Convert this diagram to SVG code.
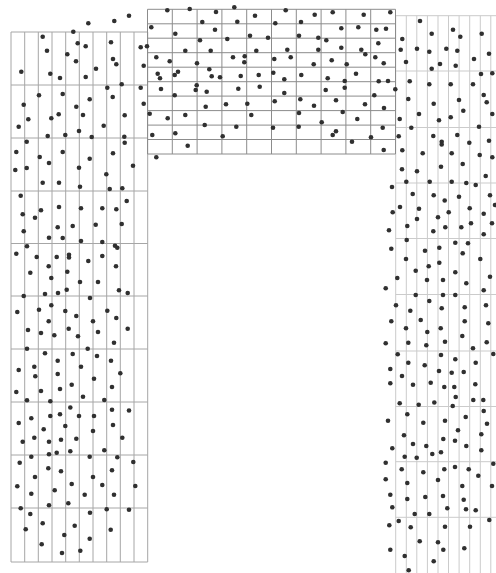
<svg xmlns="http://www.w3.org/2000/svg" width="496" height="573" viewBox="0 0 496 573">
<style>
.grid{fill:none;stroke-width:1}
#left-block .grid{stroke:#a6a6a6}
#top-block .grid{stroke:#8c8c8c}
#right-block .grid{stroke:#cbcbcb}
.dots circle{fill:#303030}
</style>
<defs><circle id="d" r="2.3"/></defs>
<rect width="496" height="573" fill="#fff"/>
<g id="left-block">
<path class="grid" d="M11,32V562M24.7,32V562M38.3,32V562M52,32V562M65.7,32V562M79.3,32V562M93,32V562M106.7,32V562M120.3,32V562M134,32V562M147.7,32V562M11,32H147.7M11,85H147.7M11,138H147.7M11,191H147.7M11,243.5H147.7M11,296H147.7M11,349H147.7M11,402H147.7M11,455H147.7M11,508H147.7M11,562H147.7"/>
</g>
<g id="right-block">
<path class="grid" d="M395.7,15.7V573M406.3,15.7V573M416.8,15.7V573M427.4,15.7V573M438,15.7V573M448.5,15.7V573M459.1,15.7V573M469.7,15.7V573M480.3,15.7V573M490.8,15.7V573M395.7,15.7H496M395.7,71H496M395.7,127.5H496M395.7,183H496M395.7,238.5H496M395.7,294.5H496M395.7,351H496M395.7,406.5H496M395.7,461.7H496M395.7,517.3H496"/>
</g>
<g id="top-block">
<path class="grid" d="M147.5,9.3V154M172.3,9.3V154M197.1,9.3V154M221.9,9.3V154M246.7,9.3V154M271.5,9.3V154M296.3,9.3V154M321.1,9.3V154M345.9,9.3V154M370.7,9.3V154M395.5,9.3V154M147.5,9.3H395.5M147.5,23.8H395.5M147.5,38.2H395.5M147.5,52.7H395.5M147.5,67.2H395.5M147.5,81.7H395.5M147.5,96.1H395.5M147.5,110.6H395.5M147.5,125.1H395.5M147.5,139.5H395.5M147.5,154H395.5"/>
</g>
<g class="dots" id="dots">
<circle r="2.3" cx="88.3" cy="23.3"/><circle r="2.3" cx="114.3" cy="21"/><circle r="2.3" cx="129" cy="15.7"/><circle r="2.3" cx="73.3" cy="31.7"/><circle r="2.3" cx="42.7" cy="36.7"/><circle r="2.3" cx="47" cy="50.7"/><circle r="2.3" cx="77.7" cy="43.3"/><circle r="2.3" cx="85.7" cy="46.3"/><circle r="2.3" cx="111" cy="42.3"/><circle r="2.3" cx="140.7" cy="47.3"/><circle r="2.3" cx="147" cy="46.3"/><circle r="2.3" cx="67.3" cy="54.3"/><circle r="2.3" cx="76" cy="61.3"/><circle r="2.3" cx="113" cy="59"/><circle r="2.3" cx="116.3" cy="64.3"/><circle r="2.3" cx="96" cy="68.7"/><circle r="2.3" cx="143.7" cy="65.7"/><circle r="2.3" cx="21.3" cy="71.7"/><circle r="2.3" cx="50.3" cy="73.7"/><circle r="2.3" cx="60" cy="78"/><circle r="2.3" cx="85.7" cy="77"/><circle r="2.3" cx="107.3" cy="87.7"/><circle r="2.3" cx="121.7" cy="84.3"/><circle r="2.3" cx="140.7" cy="87.7"/><circle r="2.3" cx="39" cy="95.3"/><circle r="2.3" cx="62.7" cy="94"/><circle r="2.3" cx="89.7" cy="99.3"/><circle r="2.3" cx="112.7" cy="97"/><circle r="2.3" cx="23.7" cy="104.7"/><circle r="2.3" cx="76.3" cy="106.7"/><circle r="2.3" cx="143.7" cy="103.7"/><circle r="2.3" cx="58.7" cy="114.3"/><circle r="2.3" cx="83" cy="115"/><circle r="2.3" cx="124.7" cy="115.3"/><circle r="2.3" cx="149.7" cy="113.7"/><circle r="2.3" cx="28.3" cy="119.3"/><circle r="2.3" cx="51.3" cy="118.3"/><circle r="2.3" cx="18.7" cy="126.7"/><circle r="2.3" cx="103.7" cy="125.7"/><circle r="2.3" cx="79" cy="131"/><circle r="2.3" cx="47.7" cy="136"/><circle r="2.3" cx="65.3" cy="135"/><circle r="2.3" cx="91.7" cy="137"/><circle r="2.3" cx="124.3" cy="136.7"/><circle r="2.3" cx="152.3" cy="135"/><circle r="2.3" cx="26.7" cy="141.7"/><circle r="2.3" cx="124.7" cy="142.7"/><circle r="2.3" cx="16.3" cy="152"/><circle r="2.3" cx="62.7" cy="152"/><circle r="2.3" cx="113" cy="153.3"/><circle r="2.3" cx="39.7" cy="157"/><circle r="2.3" cx="89.7" cy="158.7"/><circle r="2.3" cx="156.3" cy="157.3"/><circle r="2.3" cx="49" cy="163"/><circle r="2.3" cx="133" cy="165.7"/><circle r="2.3" cx="15.3" cy="170"/><circle r="2.3" cx="26.7" cy="168"/><circle r="2.3" cx="79" cy="167.7"/><circle r="2.3" cx="106.3" cy="174.3"/><circle r="2.3" cx="42.7" cy="182.7"/><circle r="2.3" cx="59" cy="182.7"/><circle r="2.3" cx="80" cy="186.7"/><circle r="2.3" cx="109.7" cy="189"/><circle r="2.3" cx="122.3" cy="188.3"/><circle r="2.3" cx="20.7" cy="195.7"/><circle r="2.3" cx="126.7" cy="201"/>
<circle r="2.3" cx="41" cy="210.3"/><circle r="2.3" cx="59" cy="207"/><circle r="2.3" cx="81" cy="208.3"/><circle r="2.3" cx="102.3" cy="208.3"/><circle r="2.3" cx="116.3" cy="209.3"/><circle r="2.3" cx="22.7" cy="214.3"/><circle r="2.3" cx="35" cy="217.7"/><circle r="2.3" cx="121.7" cy="224"/><circle r="2.3" cx="95.7" cy="224.7"/><circle r="2.3" cx="72.7" cy="226"/><circle r="2.3" cx="57.7" cy="227.3"/><circle r="2.3" cx="23.7" cy="231.3"/><circle r="2.3" cx="49" cy="237.7"/><circle r="2.3" cx="62.7" cy="238"/><circle r="2.3" cx="81" cy="241"/><circle r="2.3" cx="102.3" cy="242"/><circle r="2.3" cx="27" cy="246.3"/><circle r="2.3" cx="115" cy="245.7"/><circle r="2.3" cx="117.3" cy="247.7"/><circle r="2.3" cx="16.3" cy="253.7"/><circle r="2.3" cx="36.7" cy="257"/><circle r="2.3" cx="56.7" cy="257"/><circle r="2.3" cx="69" cy="254.7"/><circle r="2.3" cx="69" cy="257.5"/><circle r="2.3" cx="102.3" cy="256"/><circle r="2.3" cx="88.3" cy="261"/><circle r="2.3" cx="48.7" cy="266.3"/><circle r="2.3" cx="116" cy="266.3"/><circle r="2.3" cx="67.3" cy="271.7"/><circle r="2.3" cx="30.3" cy="272.7"/><circle r="2.3" cx="51.3" cy="278"/><circle r="2.3" cx="80" cy="282"/><circle r="2.3" cx="98" cy="282"/><circle r="2.3" cx="66.7" cy="289.7"/><circle r="2.3" cx="58" cy="293"/><circle r="2.3" cx="45" cy="294"/><circle r="2.3" cx="119" cy="290.3"/><circle r="2.3" cx="127.7" cy="293"/><circle r="2.3" cx="23.7" cy="296"/><circle r="2.3" cx="90" cy="298"/><circle r="2.3" cx="51.3" cy="305.3"/><circle r="2.3" cx="39" cy="309.7"/><circle r="2.3" cx="65.3" cy="311"/><circle r="2.3" cx="107.3" cy="310.7"/><circle r="2.3" cx="17.3" cy="312"/><circle r="2.3" cx="76.3" cy="316"/><circle r="2.3" cx="116.3" cy="318"/><circle r="2.3" cx="48.7" cy="321.3"/><circle r="2.3" cx="93" cy="321.3"/><circle r="2.3" cx="127.7" cy="328.7"/><circle r="2.3" cx="28" cy="330"/><circle r="2.3" cx="68.7" cy="328.7"/><circle r="2.3" cx="41" cy="333"/><circle r="2.3" cx="98" cy="332"/><circle r="2.3" cx="54.3" cy="335.3"/><circle r="2.3" cx="78" cy="336.3"/><circle r="2.3" cx="114" cy="342.7"/><circle r="2.3" cx="27" cy="348.7"/><circle r="2.3" cx="87.7" cy="348.7"/><circle r="2.3" cx="45" cy="353.3"/><circle r="2.3" cx="72.7" cy="354"/><circle r="2.3" cx="97" cy="356"/><circle r="2.3" cx="111" cy="360.7"/><circle r="2.3" cx="57.7" cy="360.7"/><circle r="2.3" cx="34.3" cy="366.7"/><circle r="2.3" cx="81" cy="366.7"/><circle r="2.3" cx="18.7" cy="370"/><circle r="2.3" cx="120.3" cy="373.3"/><circle r="2.3" cx="57.7" cy="374"/><circle r="2.3" cx="35.3" cy="376.3"/><circle r="2.3" cx="94" cy="378.7"/><circle r="2.3" cx="71.7" cy="384.7"/><circle r="2.3" cx="112" cy="387"/><circle r="2.3" cx="60" cy="389"/><circle r="2.3" cx="16.3" cy="392"/><circle r="2.3" cx="41" cy="391"/><circle r="2.3" cx="83" cy="396.7"/><circle r="2.3" cx="104.3" cy="400"/><circle r="2.3" cx="27" cy="400.3"/><circle r="2.3" cx="50.3" cy="401.3"/><circle r="2.3" cx="70.3" cy="407.5"/><circle r="2.3" cx="112" cy="409.8"/><circle r="2.3" cx="129" cy="410.5"/>
<circle r="2.3" cx="31.3" cy="418.3"/><circle r="2.3" cx="50.3" cy="416"/><circle r="2.3" cx="60" cy="414.3"/><circle r="2.3" cx="79" cy="416"/><circle r="2.3" cx="94" cy="416"/><circle r="2.3" cx="113" cy="425"/><circle r="2.3" cx="18.7" cy="423"/><circle r="2.3" cx="43.7" cy="429.3"/><circle r="2.3" cx="65.3" cy="426"/><circle r="2.3" cx="93" cy="431"/><circle r="2.3" cx="34.3" cy="437.7"/><circle r="2.3" cx="61" cy="439.7"/><circle r="2.3" cx="76.3" cy="438.7"/><circle r="2.3" cx="122.3" cy="437.7"/><circle r="2.3" cx="22.7" cy="441.7"/><circle r="2.3" cx="49" cy="441.7"/><circle r="2.3" cx="70.3" cy="451.3"/><circle r="2.3" cx="56.7" cy="452.7"/><circle r="2.3" cx="49" cy="454.3"/><circle r="2.3" cx="104.3" cy="450.3"/><circle r="2.3" cx="31.3" cy="456.7"/><circle r="2.3" cx="89.7" cy="456.7"/><circle r="2.3" cx="117.3" cy="457.3"/><circle r="2.3" cx="19.7" cy="462.7"/><circle r="2.3" cx="133.3" cy="462"/><circle r="2.3" cx="48.3" cy="468.3"/><circle r="2.3" cx="61" cy="471.3"/><circle r="2.3" cx="112" cy="470.3"/><circle r="2.3" cx="35" cy="477"/><circle r="2.3" cx="93" cy="477"/><circle r="2.3" cx="71.7" cy="484"/><circle r="2.3" cx="102.3" cy="485"/><circle r="2.3" cx="17.3" cy="486.3"/><circle r="2.3" cx="135.3" cy="486"/><circle r="2.3" cx="54.7" cy="490.3"/><circle r="2.3" cx="31.3" cy="493.7"/><circle r="2.3" cx="84.7" cy="494.7"/><circle r="2.3" cx="114" cy="494.7"/><circle r="2.3" cx="68.3" cy="503.3"/><circle r="2.3" cx="49" cy="505.3"/><circle r="2.3" cx="20.7" cy="508.3"/><circle r="2.3" cx="106.7" cy="509.3"/><circle r="2.3" cx="129" cy="509.7"/><circle r="2.3" cx="30.3" cy="514"/><circle r="2.3" cx="90" cy="512.7"/><circle r="2.3" cx="42.7" cy="523.3"/><circle r="2.3" cx="74.7" cy="525.7"/><circle r="2.3" cx="25.7" cy="529.3"/><circle r="2.3" cx="110.7" cy="529.7"/><circle r="2.3" cx="64.3" cy="535"/><circle r="2.3" cx="89.7" cy="538.7"/><circle r="2.3" cx="41.7" cy="544.3"/><circle r="2.3" cx="80.3" cy="550.7"/><circle r="2.3" cx="62" cy="553"/>
<circle r="2.3" cx="167.3" cy="10.3"/><circle r="2.3" cx="189.7" cy="9"/><circle r="2.3" cx="216" cy="12"/><circle r="2.3" cx="234.3" cy="7.3"/><circle r="2.3" cx="285.7" cy="10.3"/><circle r="2.3" cx="255" cy="15.7"/><circle r="2.3" cx="314.7" cy="14.7"/><circle r="2.3" cx="332.7" cy="12.3"/><circle r="2.3" cx="363.7" cy="14.7"/><circle r="2.3" cx="390.3" cy="12.3"/><circle r="2.3" cx="202.3" cy="22"/><circle r="2.3" cx="237.3" cy="21.7"/><circle r="2.3" cx="275.3" cy="23.3"/><circle r="2.3" cx="301" cy="22"/><circle r="2.3" cx="151.3" cy="27.3"/><circle r="2.3" cx="215" cy="29.7"/><circle r="2.3" cx="341.3" cy="28.3"/><circle r="2.3" cx="358.3" cy="27.3"/><circle r="2.3" cx="376.3" cy="29.7"/><circle r="2.3" cx="386" cy="28.7"/><circle r="2.3" cx="175.3" cy="33.7"/><circle r="2.3" cx="250" cy="35.7"/><circle r="2.3" cx="268" cy="37.7"/><circle r="2.3" cx="299" cy="35.7"/><circle r="2.3" cx="318.3" cy="37.7"/><circle r="2.3" cx="326.3" cy="40.3"/><circle r="2.3" cx="200" cy="40.3"/><circle r="2.3" cx="227.3" cy="39"/><circle r="2.3" cx="378.3" cy="43.3"/><circle r="2.3" cx="185.3" cy="50.7"/><circle r="2.3" cx="210.7" cy="50.7"/><circle r="2.3" cx="256.3" cy="50.7"/><circle r="2.3" cx="287.3" cy="49.7"/><circle r="2.3" cx="318.3" cy="49.7"/><circle r="2.3" cx="341.3" cy="47.7"/><circle r="2.3" cx="361.3" cy="49.7"/><circle r="2.3" cx="365.3" cy="54.3"/><circle r="2.3" cx="156.3" cy="57.3"/><circle r="2.3" cx="169.7" cy="61.3"/><circle r="2.3" cx="197" cy="63.3"/><circle r="2.3" cx="233" cy="57.3"/><circle r="2.3" cx="244.7" cy="56.3"/><circle r="2.3" cx="244.3" cy="62.3"/><circle r="2.3" cx="274.3" cy="59"/><circle r="2.3" cx="290.7" cy="57.3"/><circle r="2.3" cx="331.7" cy="60.3"/><circle r="2.3" cx="313.7" cy="64.3"/><circle r="2.3" cx="346.7" cy="64.3"/><circle r="2.3" cx="375.3" cy="57.3"/><circle r="2.3" cx="383.7" cy="63.3"/><circle r="2.3" cx="209.3" cy="69.3"/><circle r="2.3" cx="157.7" cy="73.7"/><circle r="2.3" cx="160" cy="78.3"/><circle r="2.3" cx="174.7" cy="75"/><circle r="2.3" cx="178" cy="71.7"/><circle r="2.3" cx="211.7" cy="76.3"/><circle r="2.3" cx="220" cy="77.3"/><circle r="2.3" cx="240.7" cy="76"/><circle r="2.3" cx="258.7" cy="75"/><circle r="2.3" cx="273.3" cy="72.7"/><circle r="2.3" cx="284.3" cy="79.3"/><circle r="2.3" cx="301.3" cy="75"/><circle r="2.3" cx="327.7" cy="78.3"/><circle r="2.3" cx="356" cy="73.7"/><circle r="2.3" cx="344.7" cy="81"/><circle r="2.3" cx="378.7" cy="81.3"/><circle r="2.3" cx="388" cy="81"/><circle r="2.3" cx="161" cy="89"/><circle r="2.3" cx="196.7" cy="85.3"/><circle r="2.3" cx="195.7" cy="90"/><circle r="2.3" cx="206.7" cy="91.7"/><circle r="2.3" cx="238.3" cy="88.7"/><circle r="2.3" cx="259.7" cy="86.7"/><circle r="2.3" cx="284.3" cy="93"/><circle r="2.3" cx="325.7" cy="90"/><circle r="2.3" cx="344.7" cy="87.7"/><circle r="2.3" cx="395.3" cy="89.3"/><circle r="2.3" cx="174.7" cy="95.3"/><circle r="2.3" cx="374.3" cy="95.3"/><circle r="2.3" cx="205.7" cy="106.7"/><circle r="2.3" cx="226" cy="104.3"/><circle r="2.3" cx="247.3" cy="103.7"/><circle r="2.3" cx="274.7" cy="101.3"/><circle r="2.3" cx="300.3" cy="99.3"/><circle r="2.3" cx="314" cy="105.7"/><circle r="2.3" cx="336" cy="100.3"/><circle r="2.3" cx="365" cy="104.3"/><circle r="2.3" cx="384" cy="108"/><circle r="2.3" cx="167.7" cy="118.3"/><circle r="2.3" cx="185.3" cy="115"/><circle r="2.3" cx="251.3" cy="115"/><circle r="2.3" cx="299" cy="113"/><circle r="2.3" cx="342.7" cy="112"/><circle r="2.3" cx="321.7" cy="122.3"/><circle r="2.3" cx="357.3" cy="119"/><circle r="2.3" cx="204.7" cy="125"/><circle r="2.3" cx="236.3" cy="126.7"/><circle r="2.3" cx="273" cy="127.7"/><circle r="2.3" cx="298.7" cy="126.7"/><circle r="2.3" cx="336" cy="131.3"/><circle r="2.3" cx="332.7" cy="135"/><circle r="2.3" cx="382.7" cy="127.7"/><circle r="2.3" cx="175.3" cy="133.3"/><circle r="2.3" cx="222.7" cy="136.3"/><circle r="2.3" cx="371" cy="137.3"/><circle r="2.3" cx="187.7" cy="145.7"/><circle r="2.3" cx="352" cy="141.7"/><circle r="2.3" cx="383.7" cy="150"/>
<circle r="2.3" cx="420" cy="21"/><circle r="2.3" cx="431.7" cy="33.7"/><circle r="2.3" cx="453" cy="29.7"/><circle r="2.3" cx="460.3" cy="36.7"/><circle r="2.3" cx="481.7" cy="33.7"/><circle r="2.3" cx="402.3" cy="39"/><circle r="2.3" cx="400.7" cy="49.7"/><circle r="2.3" cx="417" cy="48.7"/><circle r="2.3" cx="429.3" cy="51.7"/><circle r="2.3" cx="446.3" cy="48.7"/><circle r="2.3" cx="457.3" cy="50.7"/><circle r="2.3" cx="489" cy="53.7"/><circle r="2.3" cx="406" cy="62"/><circle r="2.3" cx="440" cy="64"/><circle r="2.3" cx="431.7" cy="68.7"/><circle r="2.3" cx="455.7" cy="65.7"/><circle r="2.3" cx="474" cy="59"/><circle r="2.3" cx="481" cy="74"/><circle r="2.3" cx="492.3" cy="73.3"/><circle r="2.3" cx="409.7" cy="81.3"/><circle r="2.3" cx="429.3" cy="84.3"/><circle r="2.3" cx="450.7" cy="84.3"/><circle r="2.3" cx="473" cy="84.3"/><circle r="2.3" cx="408.3" cy="99"/><circle r="2.3" cx="483.7" cy="95"/><circle r="2.3" cx="486.7" cy="102.3"/><circle r="2.3" cx="459" cy="100"/><circle r="2.3" cx="433.7" cy="103.7"/><circle r="2.3" cx="463.3" cy="110.7"/><circle r="2.3" cx="419" cy="114"/><circle r="2.3" cx="492.3" cy="114"/><circle r="2.3" cx="399.7" cy="119"/><circle r="2.3" cx="450.7" cy="117.3"/><circle r="2.3" cx="439" cy="120.3"/><circle r="2.3" cx="411.3" cy="127.7"/><circle r="2.3" cx="479" cy="126.7"/><circle r="2.3" cx="398.7" cy="136.3"/><circle r="2.3" cx="433.3" cy="136"/><circle r="2.3" cx="457.3" cy="135"/><circle r="2.3" cx="441.7" cy="141.7"/><circle r="2.3" cx="441.7" cy="144.5"/><circle r="2.3" cx="489" cy="140.7"/><circle r="2.3" cx="469.3" cy="142.7"/><circle r="2.3" cx="402.3" cy="150.3"/><circle r="2.3" cx="422.7" cy="153.3"/><circle r="2.3" cx="451.7" cy="153.3"/><circle r="2.3" cx="479.7" cy="155"/><circle r="2.3" cx="492.3" cy="157.3"/><circle r="2.3" cx="462.7" cy="164"/><circle r="2.3" cx="441" cy="166.7"/><circle r="2.3" cx="402" cy="169.3"/><circle r="2.3" cx="417" cy="171.3"/><circle r="2.3" cx="485.7" cy="176"/><circle r="2.3" cx="406.3" cy="181.7"/><circle r="2.3" cx="429.7" cy="181.7"/><circle r="2.3" cx="451.7" cy="181.7"/><circle r="2.3" cx="466.3" cy="183"/><circle r="2.3" cx="475.7" cy="185"/><circle r="2.3" cx="392" cy="187"/><circle r="2.3" cx="412.7" cy="194"/><circle r="2.3" cx="433.7" cy="195.3"/><circle r="2.3" cx="459" cy="196.7"/><circle r="2.3" cx="490" cy="195.3"/><circle r="2.3" cx="444.7" cy="200.5"/>
<circle r="2.3" cx="495" cy="205"/><circle r="2.3" cx="400" cy="207"/><circle r="2.3" cx="419" cy="208.7"/><circle r="2.3" cx="469.7" cy="208.3"/><circle r="2.3" cx="392.7" cy="212.3"/><circle r="2.3" cx="448.7" cy="212.3"/><circle r="2.3" cx="483.7" cy="213.7"/><circle r="2.3" cx="417" cy="219"/><circle r="2.3" cx="438" cy="217.3"/><circle r="2.3" cx="407.3" cy="226"/><circle r="2.3" cx="445.3" cy="227.3"/><circle r="2.3" cx="461.3" cy="227.3"/><circle r="2.3" cx="471" cy="223.3"/><circle r="2.3" cx="492" cy="223.3"/><circle r="2.3" cx="389" cy="230.3"/><circle r="2.3" cx="433.3" cy="231.3"/><circle r="2.3" cx="483.7" cy="234.3"/><circle r="2.3" cx="406.7" cy="240"/><circle r="2.3" cx="455.3" cy="242.7"/><circle r="2.3" cx="468" cy="243.3"/><circle r="2.3" cx="391.3" cy="248.7"/><circle r="2.3" cx="425" cy="250.7"/><circle r="2.3" cx="439.3" cy="247.7"/><circle r="2.3" cx="462.7" cy="253.3"/><circle r="2.3" cx="406" cy="259"/><circle r="2.3" cx="480.3" cy="259"/><circle r="2.3" cx="439.3" cy="262.7"/><circle r="2.3" cx="428.7" cy="266.3"/><circle r="2.3" cx="415.7" cy="270.7"/><circle r="2.3" cx="455.3" cy="272.3"/><circle r="2.3" cx="397.3" cy="278"/><circle r="2.3" cx="490" cy="276.7"/><circle r="2.3" cx="427" cy="280"/><circle r="2.3" cx="443" cy="280"/><circle r="2.3" cx="466.3" cy="283.3"/><circle r="2.3" cx="385.7" cy="288.3"/><circle r="2.3" cx="483.7" cy="290.3"/><circle r="2.3" cx="415.7" cy="295"/><circle r="2.3" cx="443" cy="295"/><circle r="2.3" cx="455.3" cy="295"/><circle r="2.3" cx="429.3" cy="301"/><circle r="2.3" cx="396" cy="305.3"/><circle r="2.3" cx="486" cy="305.3"/><circle r="2.3" cx="441.7" cy="308.3"/><circle r="2.3" cx="464.7" cy="307.3"/><circle r="2.3" cx="410.3" cy="310.7"/><circle r="2.3" cx="391.3" cy="321.3"/><circle r="2.3" cx="420.7" cy="320"/><circle r="2.3" cx="464.7" cy="321.3"/><circle r="2.3" cx="488.3" cy="323.3"/><circle r="2.3" cx="406" cy="328.3"/><circle r="2.3" cx="440.7" cy="328.3"/><circle r="2.3" cx="427.3" cy="332"/><circle r="2.3" cx="462.3" cy="336"/><circle r="2.3" cx="385.7" cy="343.3"/><circle r="2.3" cx="408.3" cy="342.7"/><circle r="2.3" cx="426.3" cy="345.3"/><circle r="2.3" cx="445" cy="341.7"/><circle r="2.3" cx="486.7" cy="342.3"/><circle r="2.3" cx="473" cy="348.3"/><circle r="2.3" cx="397.7" cy="354.3"/><circle r="2.3" cx="493.3" cy="354"/><circle r="2.3" cx="441" cy="355"/><circle r="2.3" cx="408.3" cy="362.7"/><circle r="2.3" cx="424.7" cy="365.3"/><circle r="2.3" cx="455.3" cy="359.3"/><circle r="2.3" cx="475.7" cy="362.7"/><circle r="2.3" cx="390.3" cy="369"/><circle r="2.3" cx="439" cy="371"/><circle r="2.3" cx="451.7" cy="372.7"/><circle r="2.3" cx="463.7" cy="372"/><circle r="2.3" cx="402" cy="376"/><circle r="2.3" cx="390.3" cy="383.3"/><circle r="2.3" cx="413" cy="384.7"/><circle r="2.3" cx="430.7" cy="382.7"/><circle r="2.3" cx="444.3" cy="387"/><circle r="2.3" cx="454.3" cy="387"/><circle r="2.3" cx="475.3" cy="384.3"/><circle r="2.3" cx="455.7" cy="397"/><circle r="2.3" cx="399.7" cy="403.3"/><circle r="2.3" cx="418.7" cy="404.7"/><circle r="2.3" cx="434.3" cy="402.5"/><circle r="2.3" cx="452.7" cy="406"/><circle r="2.3" cx="473.3" cy="400"/><circle r="2.3" cx="483.3" cy="400"/>
<circle r="2.3" cx="483.7" cy="411"/><circle r="2.3" cx="407.3" cy="414.3"/><circle r="2.3" cx="388" cy="420.7"/><circle r="2.3" cx="423.3" cy="422.7"/><circle r="2.3" cx="445" cy="420.7"/><circle r="2.3" cx="465.7" cy="417"/><circle r="2.3" cx="487" cy="423.7"/><circle r="2.3" cx="458" cy="430.3"/><circle r="2.3" cx="404" cy="435.3"/><circle r="2.3" cx="481.3" cy="434.3"/><circle r="2.3" cx="443.3" cy="439"/><circle r="2.3" cx="455" cy="440.7"/><circle r="2.3" cx="413" cy="444"/><circle r="2.3" cx="426.3" cy="446"/><circle r="2.3" cx="466.3" cy="446"/><circle r="2.3" cx="392.3" cy="448.3"/><circle r="2.3" cx="481.3" cy="450.3"/><circle r="2.3" cx="432.3" cy="454"/><circle r="2.3" cx="441" cy="452.3"/><circle r="2.3" cx="404.7" cy="456.7"/><circle r="2.3" cx="416.7" cy="457.7"/><circle r="2.3" cx="385.7" cy="462.7"/><circle r="2.3" cx="493.3" cy="463.7"/><circle r="2.3" cx="455" cy="467"/><circle r="2.3" cx="444.3" cy="469.3"/><circle r="2.3" cx="401.7" cy="469.3"/><circle r="2.3" cx="468.7" cy="469.3"/><circle r="2.3" cx="423.3" cy="472.3"/><circle r="2.3" cx="478.3" cy="475.7"/><circle r="2.3" cx="385.7" cy="479.3"/><circle r="2.3" cx="438" cy="480"/><circle r="2.3" cx="407.3" cy="483"/><circle r="2.3" cx="462.3" cy="486"/><circle r="2.3" cx="492" cy="486"/><circle r="2.3" cx="390.3" cy="494.7"/><circle r="2.3" cx="425.3" cy="497"/><circle r="2.3" cx="443" cy="496"/><circle r="2.3" cx="407.3" cy="499"/><circle r="2.3" cx="463.7" cy="499.7"/><circle r="2.3" cx="392.3" cy="507.3"/><circle r="2.3" cx="447.3" cy="508.3"/><circle r="2.3" cx="466" cy="509.3"/><circle r="2.3" cx="475.7" cy="510.3"/><circle r="2.3" cx="414.7" cy="514"/><circle r="2.3" cx="429.3" cy="514"/><circle r="2.3" cx="398.7" cy="521"/><circle r="2.3" cx="489.3" cy="520"/><circle r="2.3" cx="389.3" cy="525.3"/><circle r="2.3" cx="410.7" cy="527.3"/><circle r="2.3" cx="445" cy="526.7"/><circle r="2.3" cx="470" cy="526.7"/><circle r="2.3" cx="419.7" cy="541.3"/><circle r="2.3" cx="438" cy="542.3"/><circle r="2.3" cx="390.3" cy="549.7"/><circle r="2.3" cx="443.3" cy="549.7"/><circle r="2.3" cx="464.3" cy="548.3"/><circle r="2.3" cx="404.7" cy="556"/><circle r="2.3" cx="433.7" cy="561.3"/><circle r="2.3" cx="408.7" cy="570.3"/>
</g>
</svg>
